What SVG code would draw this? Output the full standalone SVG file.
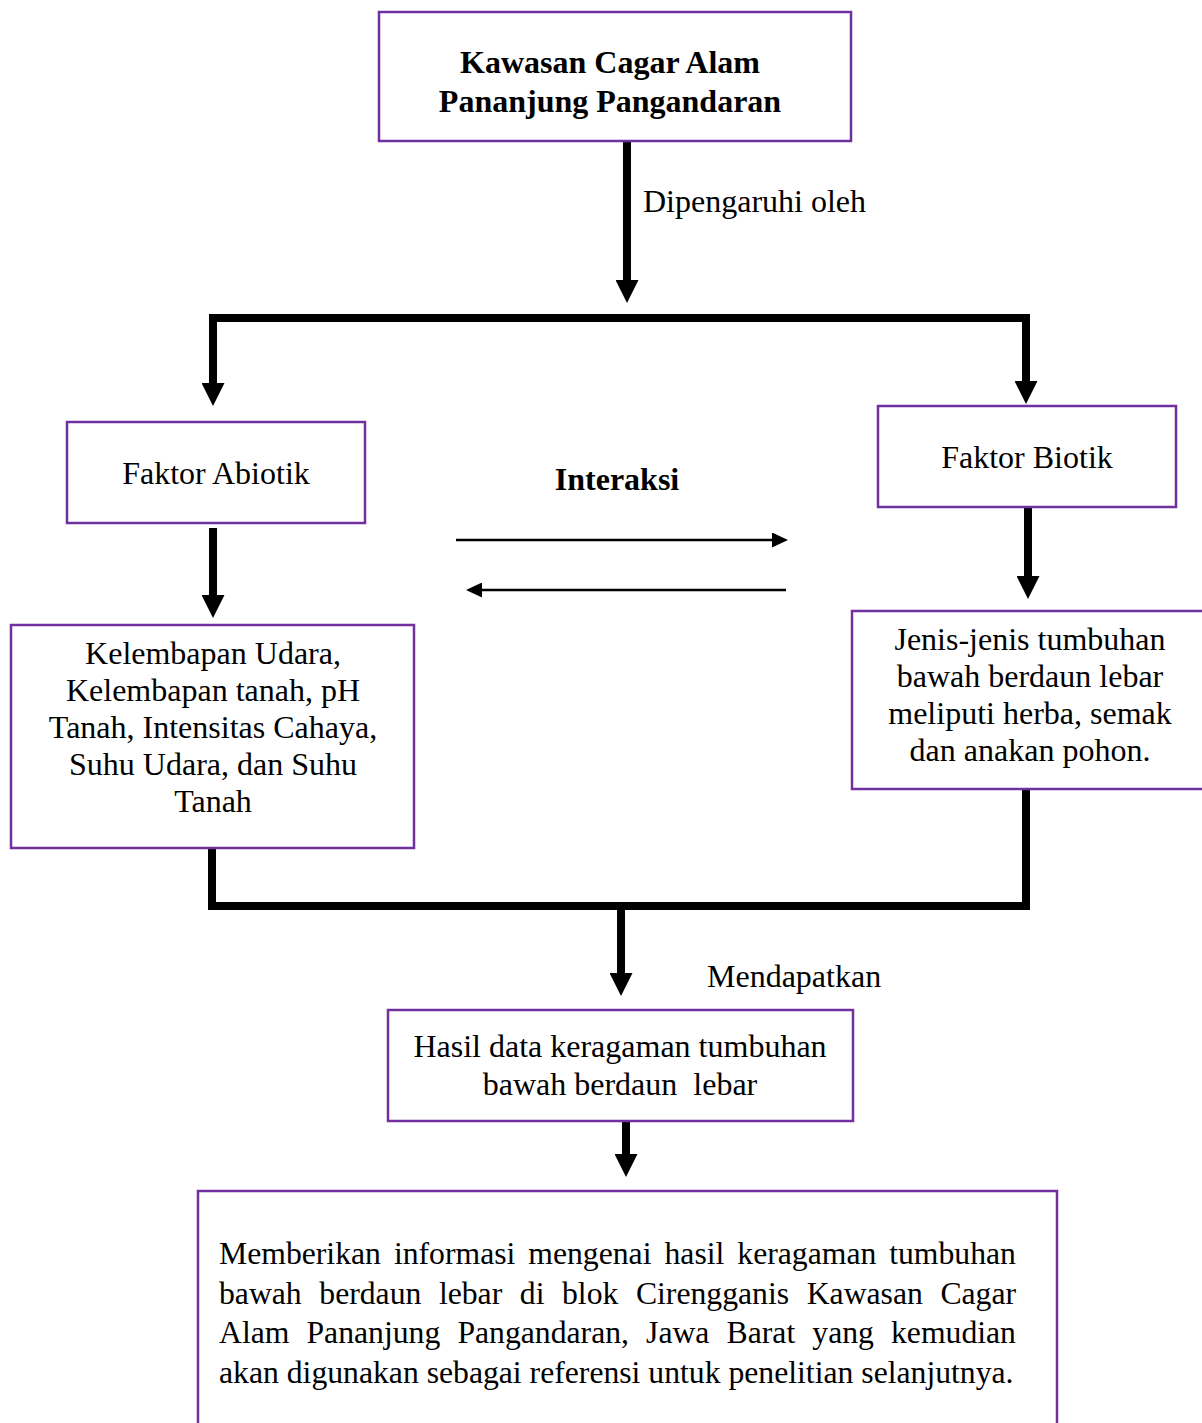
<svg xmlns="http://www.w3.org/2000/svg" width="1202" height="1423" viewBox="0 0 1202 1423">
<style>
.box{fill:#fff;stroke:#7030A0;stroke-width:2.5}
.t{font-family:"Liberation Serif","Times New Roman",serif;font-size:32px;fill:#000}
.j{font-size:31.7px}
.c{text-anchor:middle}
.b{font-weight:bold}
.thick{fill:none;stroke:#000;stroke-width:8;stroke-linejoin:miter}
.thin{fill:none;stroke:#000;stroke-width:2.5}
</style>
<defs>
<marker id="big" viewBox="0 0 23 23" refX="0" refY="11.5" markerWidth="23" markerHeight="23" markerUnits="userSpaceOnUse" orient="auto">
<path d="M0,0 L23,11.5 L0,23 z" fill="#000"/>
</marker>
<marker id="small" viewBox="0 0 16 15" refX="0" refY="7.5" markerWidth="16" markerHeight="15" markerUnits="userSpaceOnUse" orient="auto">
<path d="M0,0 L16,7.5 L0,15 z" fill="#000"/>
</marker>
</defs>
<g id="connectors">
<path class="thick" d="M627,142 V280" marker-end="url(#big)"/>
<path class="thick" d="M627,318 H213 V383" marker-end="url(#big)"/>
<path class="thick" d="M627,318 H1026 V381" marker-end="url(#big)"/>
<path class="thick" d="M213,528 V595" marker-end="url(#big)"/>
<path class="thick" d="M1028,508 V576" marker-end="url(#big)"/>
<path class="thick" d="M212,848 V906 H1026 V789"/>
<path class="thick" d="M621,906 V973" marker-end="url(#big)"/>
<path class="thick" d="M626,1122 V1154" marker-end="url(#big)"/>
<path class="thin" d="M456,540 H772" marker-end="url(#small)"/>
<path class="thin" d="M786,590 H482" marker-end="url(#small)"/>
<text class="t" x="643" y="212">Dipengaruhi oleh</text>
<text class="t b c" x="617" y="490">Interaksi</text>
<text class="t" x="707" y="987">Mendapatkan</text>
</g>
<g id="node-kawasan">
<rect class="box" x="379" y="12" width="472" height="129"/>
<text class="t b c" x="610" y="73">Kawasan Cagar Alam</text>
<text class="t b c" x="610" y="112">Pananjung Pangandaran</text>
</g>
<g id="node-abiotik">
<rect class="box" x="67" y="422" width="298" height="101"/>
<text class="t c" x="216" y="484">Faktor Abiotik</text>
</g>
<g id="node-biotik">
<rect class="box" x="878" y="406" width="298" height="101"/>
<text class="t c" x="1027" y="468">Faktor Biotik</text>
</g>
<g id="node-kelembapan">
<rect class="box" x="11" y="625" width="403" height="223"/>
<text class="t c" x="213" y="664">Kelembapan Udara,</text>
<text class="t c" x="213" y="701">Kelembapan tanah, pH</text>
<text class="t c" x="213" y="738">Tanah, Intensitas Cahaya,</text>
<text class="t c" x="213" y="775">Suhu Udara, dan Suhu</text>
<text class="t c" x="213" y="812">Tanah</text>
</g>
<g id="node-jenis">
<rect class="box" x="852" y="611" width="360" height="178"/>
<text class="t c" x="1030" y="650">Jenis-jenis tumbuhan</text>
<text class="t c" x="1030" y="687">bawah berdaun lebar</text>
<text class="t c" x="1030" y="724">meliputi herba, semak</text>
<text class="t c" x="1030" y="761">dan anakan pohon.</text>
</g>
<g id="node-hasil">
<rect class="box" x="388" y="1010" width="465" height="111"/>
<text class="t c" x="620" y="1057">Hasil data keragaman tumbuhan</text>
<text class="t c" x="620" y="1095" xml:space="preserve">bawah berdaun  lebar</text>
</g>
<g id="node-informasi">
<rect class="box" x="198" y="1191" width="859" height="250"/>
<text class="t j" y="1264"><tspan x="219">Memberikan</tspan><tspan x="393.9">informasi</tspan><tspan x="528.3">mengenai</tspan><tspan x="664.5">hasil</tspan><tspan x="737.3">keragaman</tspan><tspan x="889.2">tumbuhan</tspan></text>
<text class="t j" y="1304"><tspan x="219">bawah</tspan><tspan x="319.3">berdaun</tspan><tspan x="438.9">lebar</tspan><tspan x="519.8">di</tspan><tspan x="562">blok</tspan><tspan x="635.9">Cirengganis</tspan><tspan x="806.7">Kawasan</tspan><tspan x="940.4">Cagar</tspan></text>
<text class="t j" y="1343"><tspan x="219">Alam</tspan><tspan x="306.5">Pananjung</tspan><tspan x="457.4">Pangandaran,</tspan><tspan x="646.1">Jawa</tspan><tspan x="726.6">Barat</tspan><tspan x="812.3">yang</tspan><tspan x="891">kemudian</tspan></text>
<text class="t j" x="219" y="1383">akan digunakan sebagai referensi untuk penelitian selanjutnya.</text>
</g>
</svg>
